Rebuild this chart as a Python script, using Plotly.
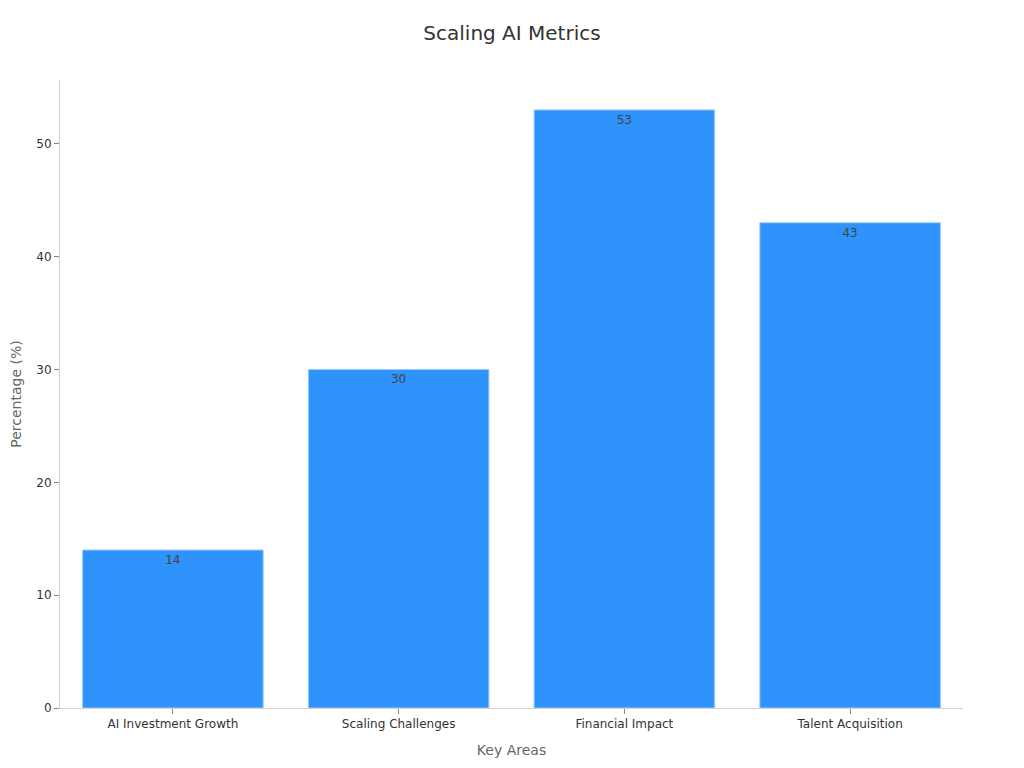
import plotly.graph_objects as go

categories = ["AI Investment Growth", "Scaling Challenges", "Financial Impact", "Talent Acquisition"]
values = [14, 30, 53, 43]

fig = go.Figure(go.Bar(
    x=categories,
    y=values,
    text=values,
    textposition="inside",
    insidetextanchor="end",
    textfont=dict(color="#444444", size=12),
    marker=dict(color="#2E93FA", line=dict(color="#9CCBFB", width=1)),
))

fig.update_layout(
    width=1024,
    height=768,
    paper_bgcolor="white",
    plot_bgcolor="white",
    font=dict(family="DejaVu Sans, Verdana, sans-serif", color="#333333"),
    title=dict(text="Scaling AI Metrics", x=504 / 1024, xanchor="center", y=1 - 25 / 768, yanchor="middle",
               font=dict(size=20, color="#333333")),
    margin=dict(l=52, r=69, t=72, b=68),
    bargap=0.2,
    showlegend=False,
    xaxis=dict(
        title=dict(text="Key Areas", font=dict(size=14, color="#666666"), standoff=14),
        showline=True, linecolor="#d0d0d0", linewidth=1,
        ticks="outside", tickcolor="#888888", ticklen=5,
        tickfont=dict(size=12, color="#333333"),
        showgrid=False, automargin=False,
    ),
    yaxis=dict(
        title=dict(text="Percentage (%)", font=dict(size=14, color="#666666"), standoff=16),
        range=[0, 55.65],
        dtick=10,
        showline=True, linecolor="#d0d0d0", linewidth=1,
        ticks="outside", tickcolor="#888888", ticklen=5,
        tickfont=dict(size=12, color="#333333"),
        showgrid=False, zeroline=False, automargin=False,
    ),
)

fig.write_html("out.html")
